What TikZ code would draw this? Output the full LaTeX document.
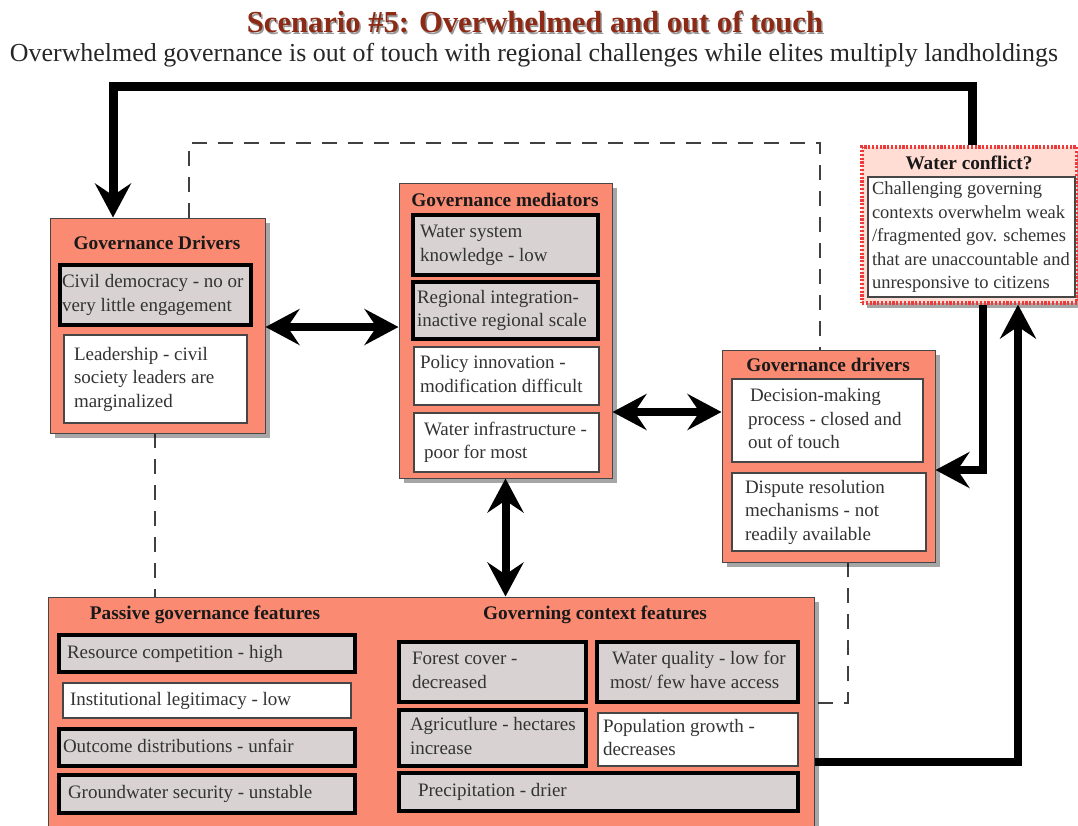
\documentclass[tikz,border=0pt]{standalone}
\usepackage{fontspec}
\setmainfont{Liberation Serif}
\usetikzlibrary{arrows.meta,shadows}

\definecolor{salmon}{RGB}{250,138,114}
\definecolor{itemgray}{RGB}{216,210,210}
\definecolor{edgegray}{RGB}{70,70,70}
\definecolor{titlered}{RGB}{140,42,22}
\definecolor{conflictfill}{RGB}{255,220,212}
\definecolor{conflictedge}{RGB}{238,58,58}

\newcommand{\itemfont}{\fontsize{19}{23.5}\selectfont}
\newcommand{\headfont}{\fontsize{19.3}{22}\selectfont\bfseries}
% left-aligned block of explicit lines in a box of fixed width
\newcommand{\boxlines}[2]{\makebox[#1pt][l]{\begin{tabular}{@{}l@{}}#2\end{tabular}}}

\tikzset{
  panel/.style={draw=edgegray, line width=1pt, fill=salmon,
    drop shadow={shadow xshift=5pt, shadow yshift=-5pt, fill=black, opacity=0.35}},
  keyitem/.style={draw=black, line width=3.5pt, fill=itemgray, text=black!80,
    font=\itemfont, inner ysep=0pt},
  plainitem/.style={draw=edgegray, line width=1.2pt, fill=white, text=black!80,
    font=\itemfont, inner ysep=0pt},
  sized/.style n args={3}{minimum width=#1pt, minimum height=#2pt, inner xsep=#3pt},
  heading/.style={font=\headfont, text=black!90, inner sep=0pt},
  boundary/.style={draw=black!75, line width=1.6pt, dash pattern=on 15pt off 11pt},
  tip/.tip={Stealth[length=34pt, width=36pt, inset=12pt]},
  link/.style={line width=8pt, -tip},
  twoway/.style={line width=8pt, tip-tip},
}

\begin{document}
\begin{tikzpicture}[x=1pt, y=-1pt]
\useasboundingbox (0,0) rectangle (1078,825);

% titles
\node[inner sep=0pt, text=black!40] at (536.5,23.5)
  {\resizebox{576pt}{!}{\fontsize{30}{34}\selectfont\bfseries Scenario \#5: Overwhelmed and out of touch}};
\node[inner sep=0pt, text=titlered] (title) at (535,22)
  {\resizebox{576pt}{!}{\fontsize{30}{34}\selectfont\bfseries Scenario \#5: Overwhelmed and out of touch}};
\node[inner sep=0pt, text=black!85] (subtitle) at (534,55)
  {\resizebox{1048pt}{!}{\fontsize{25}{30}\selectfont Overwhelmed governance is out of touch with regional challenges while elites multiply landholdings}};

% dashed boundary of the governance system
\draw[boundary] (189,218) -- (189,143) -- (820,143) -- (820,350);
\draw[boundary] (155,433) -- (155,597);
\draw[boundary] (848,562) -- (848,703) -- (814,703);

% governance drivers (left)
\node[panel, minimum width=215pt, minimum height=215pt] (gd) at (157.5,325.5) {};
\node[heading] (gdh) at (157,243) {Governance Drivers};
\node[keyitem, sized={191}{60}{2}] (gd1) at (155.5,295)
  {\boxlines{187}{Civil democracy - no or\\very little engagement}};
\node[plainitem, sized={183}{88}{10}] (gd2) at (155.5,379)
  {\boxlines{163}{Leadership - civil\\society leaders are\\marginalized}};

% governance mediators
\node[panel, minimum width=213pt, minimum height=295pt] (med) at (505.5,330.5) {};
\node[heading] (medh) at (505,200) {Governance mediators};
\node[keyitem, sized={185}{60}{7}] (m1) at (505.5,245)
  {\boxlines{171}{Water system\\knowledge - low}};
\node[keyitem, sized={185}{57}{4}] (m2) at (505.5,310.5)
  {\boxlines{177}{Regional integration-\\inactive regional scale}};
\node[plainitem, sized={185}{58}{6}] (m3) at (506.5,376)
  {\boxlines{173}{Policy innovation -\\modification difficult}};
\node[plainitem, sized={185}{59}{10}] (m4) at (506.5,442.5)
  {\boxlines{165}{Water infrastructure -\\poor for most}};

% governance drivers (right)
\node[panel, minimum width=213pt, minimum height=212pt] (rd) at (828.5,456) {};
\node[heading] (rdh) at (828,365) {Governance drivers};
\node[plainitem, sized={191}{83}{16}] (r1) at (827.5,420.5)
  {\boxlines{159}{\hspace*{2pt}Decision-making\\process - closed and\\out of touch}};
\node[plainitem, sized={194}{78}{13}] (r2) at (829,512)
  {\boxlines{168}{Dispute resolution\\mechanisms - not\\readily available}};

% water conflict
\node[draw=conflictedge, line width=3.2pt, dash pattern=on 2.2pt off 1.6pt, fill=conflictfill,
      drop shadow={shadow xshift=5pt, shadow yshift=-5pt, fill=black, opacity=0.35},
      minimum width=215pt, minimum height=156pt] (wc) at (969.5,225) {};
\node[heading] (wch) at (969,163) {Water conflict?};
\node[plainitem, sized={207}{120}{4}, font=\fontsize{18.5}{23.5}\selectfont] (w1) at (971.5,237)
  {\boxlines{199}{Challenging governing\\contexts overwhelm weak\\/fragmented gov. schemes\\that are unaccountable and\\unresponsive to citizens}};

% features panel
\node[panel, minimum width=766pt, minimum height=238pt] (bot) at (431,716) {};
\node[heading] (both1) at (205,615) {Passive governance features};
\node[heading] (both2) at (595,615) {Governing context features};
\node[keyitem, sized={296}{37}{8}] (b1) at (207,653.5)
  {\boxlines{280}{Resource competition - high}};
\node[plainitem, sized={288}{35}{7}] (b2) at (207,700.5)
  {\boxlines{274}{Institutional legitimacy - low}};
\node[keyitem, sized={296}{37}{4}] (b3) at (207,747.5)
  {\boxlines{288}{Outcome distributions - unfair}};
\node[keyitem, sized={296}{38}{9}] (b4) at (207,794)
  {\boxlines{278}{Groundwater security - unstable}};
\node[keyitem, sized={187}{60}{13}] (c1) at (492.5,672)
  {\boxlines{161}{Forest cover -\\decreased}};
\node[keyitem, sized={201}{60}{13}] (c2) at (697.5,672)
  {\boxlines{175}{\hspace*{2pt}Water quality - low for\\most/ few have access}};
\node[keyitem, sized={187}{56}{11}] (c3) at (492.5,738)
  {\boxlines{165}{Agricutlure - hectares\\increase}};
\node[plainitem, sized={200}{53}{5}] (c4) at (698,739.5)
  {\boxlines{190}{Population growth -\\decreases}};
\node[keyitem, sized={399}{38}{19}] (c5) at (598.5,792)
  {\boxlines{361}{Precipitation - drier}};

% connectors
\draw[link, line width=9pt] ([xshift=2.5pt]wc.north) -- ++(0,-59) -| ([xshift=-44.5pt]gd.north);
\draw[twoway] ([yshift=-1.5pt]gd.east) -- ([yshift=-1.5pt]gd.east -| med.west);
\draw[twoway] ([yshift=-81.5pt]med.east) -- ([yshift=-81.5pt]med.east -| rd.west);
\draw[twoway] (med.south) -- (med.south |- bot.north);
\draw[link] ([xshift=13.5pt]wc.south) |- ([yshift=-14pt]rd.east);
\draw[link] ([yshift=-46pt]bot.east) -| ([xshift=48.5pt]wc.south);
\end{tikzpicture}
\end{document}
